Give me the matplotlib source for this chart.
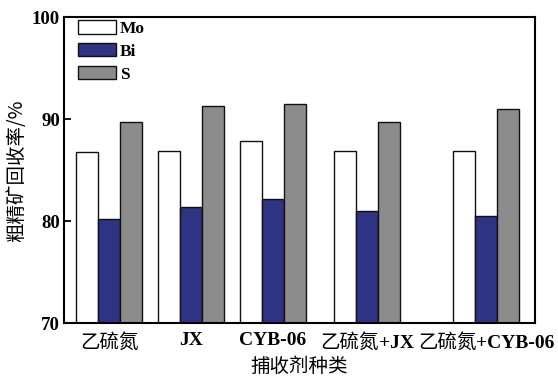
import re
import numpy as np
import matplotlib
matplotlib.use('Agg')
import matplotlib.pyplot as plt
from matplotlib.offsetbox import TextArea, HPacker, AnnotationBbox

# collector types and recoveries of the rough concentrate (%)
collectors = ['乙硫氮', 'JX', 'CYB-06', '乙硫氮+JX', '乙硫氮+CYB-06']
mo = [86.8, 86.85, 87.9, 86.85, 86.85]
bi = [80.2, 81.45, 82.2, 81.0, 80.5]
s = [89.7, 91.35, 91.5, 89.7, 91.05]

# group centres (the long mixed labels need more room on the right)
xpos = np.array([1.0, 2.0, 3.0, 4.15, 5.6])
width = 0.268

CJK = 'Noto Sans CJK SC'
SERIF = 'Liberation Serif'


def mixed_label(ax, x, text, size=14):
    # Chinese part in a CJK font, Latin part in bold serif
    parts = [p for p in re.split(r'([\u4e00-\u9fff]+)', text) if p]
    boxes = []
    for p in parts:
        if re.match(r'[\u4e00-\u9fff]', p):
            props = dict(family=CJK, size=size, weight='normal')
        else:
            props = dict(family=SERIF, size=size, weight='bold')
        boxes.append(TextArea(p, textprops=props))
    pack = HPacker(children=boxes, align='baseline', pad=0, sep=0)
    ab = AnnotationBbox(pack, (x, 0), xycoords=ax.get_xaxis_transform(),
                        xybox=(0, -6), boxcoords='offset points',
                        box_alignment=(0.5, 1), frameon=False,
                        annotation_clip=False)
    ax.add_artist(ab)


fig = plt.figure(figsize=(5.58, 3.76), dpi=100)
ax = fig.add_axes([0.1147, 0.140, 0.9588 - 0.1147, 0.954 - 0.140])

edge = dict(edgecolor='#111111', linewidth=1.0)
ax.bar(xpos - width, mo, width, color='white', label='Mo', **edge)
ax.bar(xpos, bi, width, color='#2e3383', label='Bi', **edge)
ax.bar(xpos + width, s, width, color='#8c8c8c', label='S', **edge)

ax.set_ylim(70, 100)
ax.set_xlim(0.451, 6.195)
ax.set_yticks([70, 80, 90, 100])
ax.set_xticks(xpos)
ax.set_xticklabels([''] * len(xpos))
ax.tick_params(axis='x', length=0)
ax.tick_params(axis='y', direction='in', length=5, width=1.3, pad=3)
for lab in ax.get_yticklabels():
    lab.set_fontfamily(SERIF)
    lab.set_fontweight('bold')
    lab.set_fontsize(13.5)
for sp in ax.spines.values():
    sp.set_linewidth(1.5)

for x, name in zip(xpos, collectors):
    mixed_label(ax, x, name)

ax.set_ylabel('粗精矿回收率/%', family=[CJK], fontsize=14, labelpad=3)
fig.text(0.5 * (0.1147 + 0.9588), 1 - 366 / 376, '捕收剂种类', family=[CJK],
         fontsize=14, ha='center', va='center')

ax.legend(loc='upper left', bbox_to_anchor=(0.03, 0.99), frameon=False,
          borderpad=0, borderaxespad=0, handlelength=2.2, handleheight=0.8,
          handletextpad=0.2, labelspacing=0.35,
          prop=dict(family=SERIF, weight='bold', size=12.5))

fig.savefig('out.png', dpi=100)
